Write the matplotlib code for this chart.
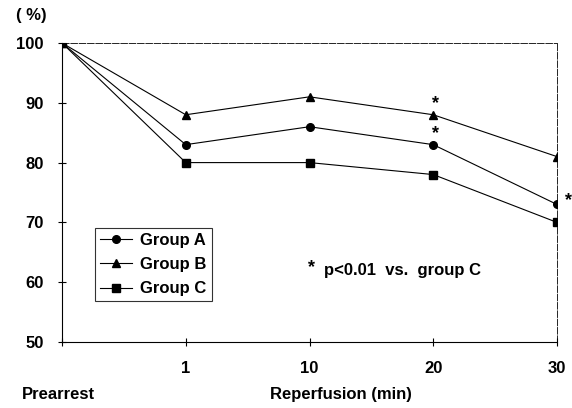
import matplotlib
matplotlib.use("Agg")
import matplotlib.pyplot as plt

categories = ["", "1", "10", "20", "30"]
group_a = [100, 83, 86, 83, 73]
group_b = [100, 88, 91, 88, 81]
group_c = [100, 80, 80, 78, 70]
yticks = [50, 60, 70, 80, 90, 100]

plt.rcParams['font.family'] = ['Liberation Sans', 'DejaVu Sans']
plt.rcParams['font.weight'] = 'bold'
FS = 12

fig = plt.figure(figsize=(5.72, 4.08), dpi=100)
ax = fig.add_axes([0.1084, 0.1618, 0.9738 - 0.1084, 0.8946 - 0.1618])

x = list(range(len(categories)))
lw = 0.8
ax.plot(x, group_a, color='black', lw=lw, marker='o', ms=5.5, label='Group A')
ax.plot(x, group_b, color='black', lw=lw, marker='^', ms=5.5, label='Group B')
ax.plot(x, group_c, color='black', lw=lw, marker='s', ms=6, label='Group C')

ax.set_xlim(0, 4)
ax.set_ylim(50, 100)
ax.set_xticks(x)
ax.set_xticklabels(categories, fontsize=FS)
ax.set_yticks(yticks)
ax.set_yticklabels([str(v) for v in yticks], fontsize=FS)
ax.tick_params(direction='inout', length=6, width=0.8)
ax.tick_params(axis='x', pad=11)
ax.tick_params(axis='y', pad=10)
for s in ax.spines.values():
    s.set_linewidth(0.8)
ax.spines['top'].set_linestyle((0, (8, 2)))
ax.spines['right'].set_linestyle((0, (8, 2)))
ax.spines['top'].set_linewidth(0.6)
ax.spines['right'].set_linewidth(0.6)

# significance stars
ax.text(3.02, 89.9, '*', fontsize=13, ha='center', va='center')
ax.text(3.02, 84.8, '*', fontsize=13, ha='center', va='center')
ax.text(4.09, 73.6, '*', fontsize=13, ha='center', va='center', clip_on=False)
ax.text(2.02, 62.4, '*', fontsize=13, ha='center', va='center')
ax.text(2.12, 62.0, 'p<0.01  vs.  group C', fontsize=FS, ha='left', va='center')

leg = ax.legend(loc='upper left', bbox_to_anchor=(0.067, 0.381), fontsize=FS,
                frameon=True, fancybox=False, edgecolor='black', handlelength=1.9,
                borderpad=0.3, labelspacing=0.55, handletextpad=0.5, borderaxespad=0)
leg.get_frame().set_linewidth(0.8)

fig.text(0.028, 0.962, '( %)', fontsize=FS, ha='left', va='center')
fig.text(0.038, 0.032, 'Prearrest', fontsize=FS, ha='left', va='center')
fig.text(0.472, 0.032, 'Reperfusion (min)', fontsize=FS, ha='left', va='center')

fig.savefig('out.png', dpi=100)
